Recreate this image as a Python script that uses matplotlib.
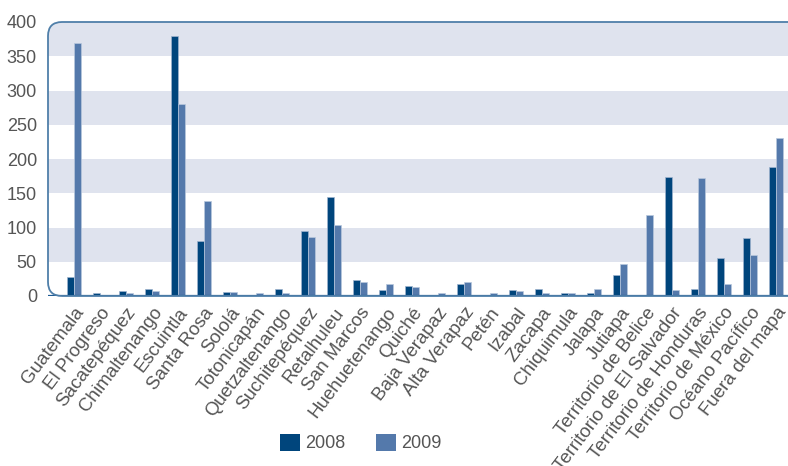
import matplotlib
matplotlib.use("Agg")
import numpy as np
import matplotlib.pyplot as plt
from matplotlib.patches import FancyBboxPatch, Patch
from matplotlib.transforms import IdentityTransform

plt.rcParams['font.family'] = ['Liberation Sans', 'DejaVu Sans']

# Data
cats = ["Guatemala", "El Progreso", "Sacatepéquez", "Chimaltenango", "Escuintla",
        "Santa Rosa", "Sololá", "Totonicapán", "Quetzaltenango", "Suchitepéquez",
        "Retalhuleu", "San Marcos", "Huehuetenango", "Quiché", "Baja Verapaz",
        "Alta Verapaz", "Petén", "Izabal", "Zacapa", "Chiquimula", "Jalapa",
        "Jutiapa", "Territorio de Belice", "Territorio de El Salvador",
        "Territorio de Honduras", "Territorio de México", "Océano Pacífico",
        "Fuera del mapa"]
v2008 = [28, 4, 8, 10, 380, 80, 6, 2, 10, 95, 144, 23, 9, 15, 2, 17, 0, 9, 10,
         4, 4, 30, 0, 174, 10, 56, 84, 189]
v2009 = [370, 2, 4, 8, 280, 138, 6, 4, 4, 86, 103, 21, 17, 13, 4, 20, 4, 7, 4,
         4, 10, 47, 118, 9, 172, 17, 60, 230]
yticks = [0, 50, 100, 150, 200, 250, 300, 350, 400]

C2008 = '#00457c'
C2009 = '#5479ab'
TXT = '#555555'

W, H = 788, 466
fig = plt.figure(figsize=(W / 100, H / 100), dpi=100)
left, right, top, bottom = 48, 788, 22, 296
ax = fig.add_axes([left / W, 1 - bottom / H, (right - left) / W, (bottom - top) / H])

x = np.arange(len(cats))
bw = 0.27
ax.bar(x - bw / 2, v2008, bw, color=C2008, edgecolor='#9fb4cf', linewidth=0.5, zorder=3)
ax.bar(x + bw / 2, v2009, bw, color=C2009, edgecolor='#b8c8dd', linewidth=0.5, zorder=3)

ax.set_xlim(-1.0, (right - 74) / 26)
ax.set_ylim(0, 400)

# rounded frame in pixel coordinates
frame = FancyBboxPatch((left, H - bottom), right - left + 30, bottom - top,
                       boxstyle="round,pad=0,rounding_size=14",
                       facecolor='none', edgecolor='#4f7fa9', linewidth=1.3,
                       transform=IdentityTransform(), zorder=5)
fig.add_artist(frame)

# alternating bands
for lo in [50, 150, 250, 350]:
    band = ax.axhspan(lo, lo + 50, color='#dfe3ee', zorder=0, linewidth=0)
    band.set_clip_path(frame)
ax.axhline(0, color='#1f5b93', linewidth=1.6, zorder=6)

for s in ax.spines.values():
    s.set_visible(False)

ax.set_yticks(yticks)
ax.set_yticklabels([str(t) for t in yticks], fontsize=13, color=TXT)
ax.tick_params(axis='y', length=0, pad=8)
ax.set_xticks(x)
ax.set_xticklabels(cats, rotation=53, ha='right', va='top', rotation_mode='anchor',
                   fontsize=13.5, color=TXT)
ax.tick_params(axis='x', length=0, pad=6)

handles = [Patch(facecolor=C2008), Patch(facecolor=C2009)]
fig.legend(handles, ['2008', '2009'], loc='center', bbox_to_anchor=(361 / W, 1 - 443 / H),
           ncol=2, frameon=False, fontsize=13, labelcolor=TXT, handlelength=1.1,
           handleheight=1.1, handletextpad=0.3, columnspacing=1.7)

fig.savefig('out.png', dpi=100)
